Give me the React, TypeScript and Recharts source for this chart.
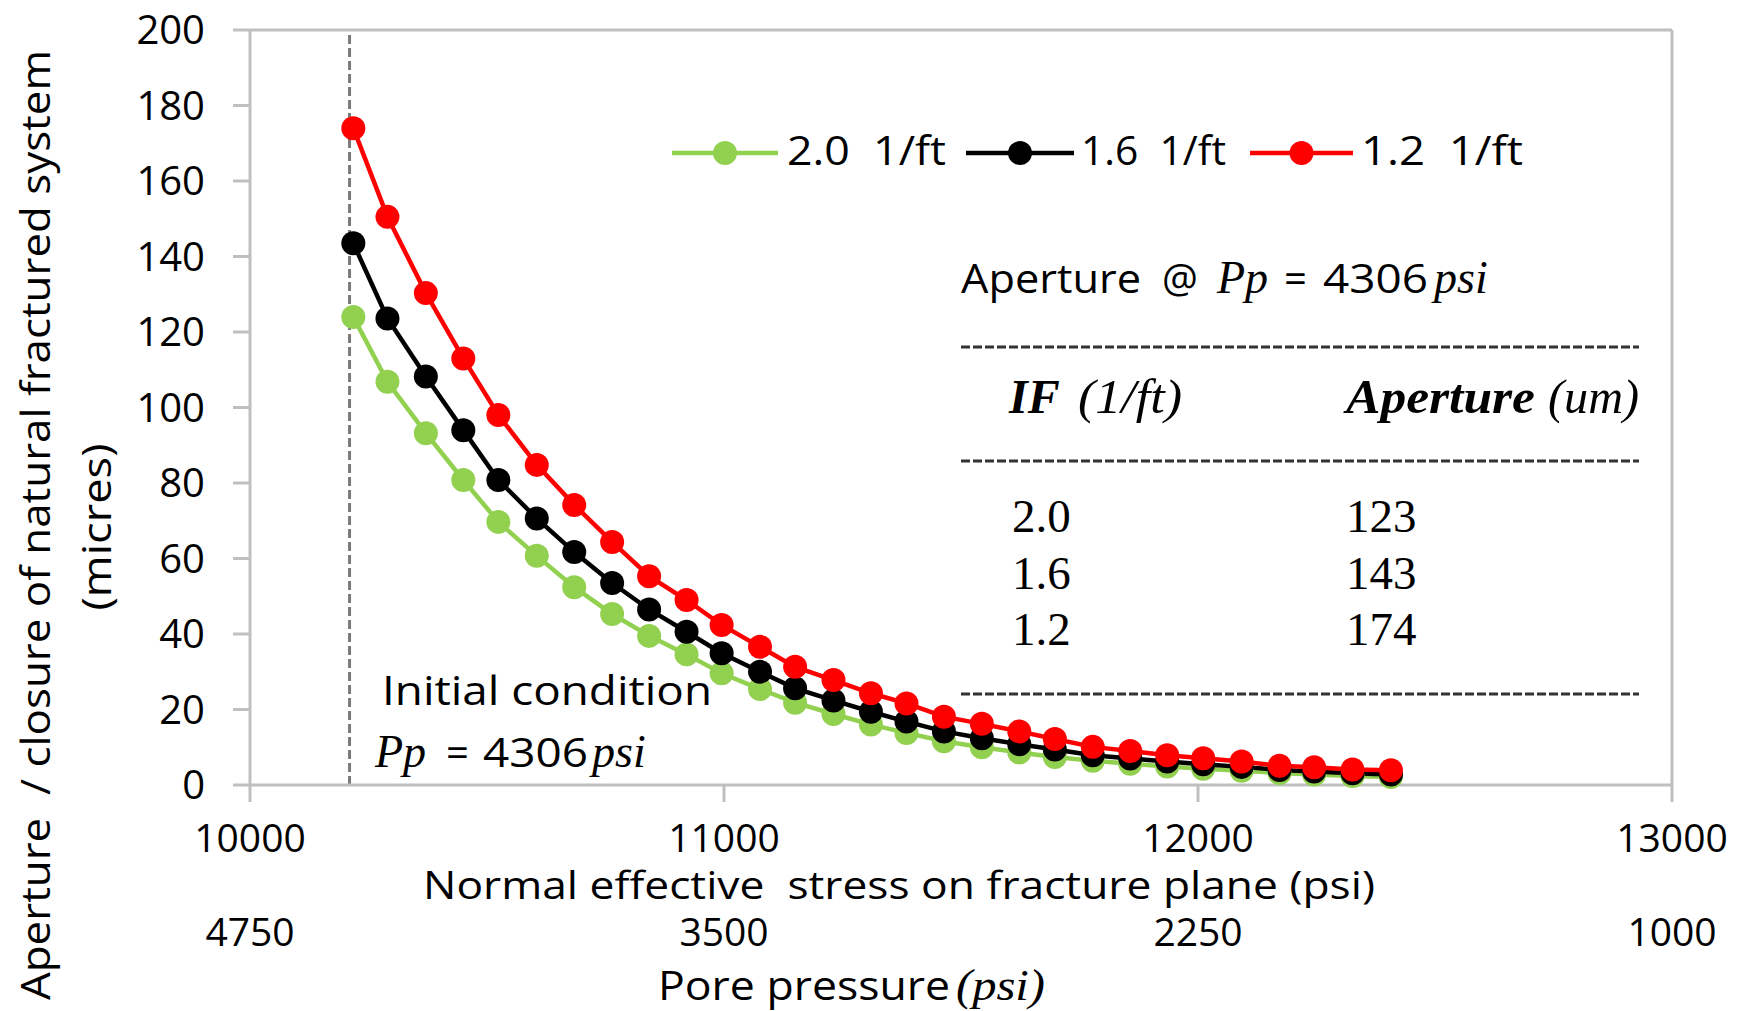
import React from 'react';
import { LineChart, Line, XAxis, YAxis, ReferenceLine, Label } from 'recharts';

document.body.style.margin = '0';

// normal effective stress on the fracture plane (psi)
const stress = [10218, 10290, 10371, 10450, 10524, 10605, 10684, 10764, 10842, 10921, 10995, 11076, 11150, 11231, 11310, 11385, 11464, 11544, 11623, 11698, 11778, 11857, 11935, 12011, 12092, 12172, 12245, 12326, 12407];

// aperture (microns) for each fracture intensity
const if20 = [124, 106.8, 93.2, 80.8, 69.7, 60.7, 52.4, 45.3, 39.5, 34.6, 29.6, 25.4, 21.8, 18.8, 16.0, 13.8, 11.6, 10.0, 8.6, 7.4, 6.4, 5.6, 4.9, 4.3, 3.8, 3.2, 2.8, 2.4, 2.1];
const if16 = [143.5, 123.6, 108.2, 94, 80.8, 70.6, 61.7, 53.5, 46.5, 40.6, 34.9, 30.0, 25.6, 22.4, 19.4, 16.8, 14.2, 12.4, 10.8, 9.4, 7.9, 7.0, 6.2, 5.5, 4.8, 4.0, 3.6, 3.1, 2.8];
const if12 = [174, 150.5, 130.3, 113, 98, 84.8, 74.2, 64.4, 55.3, 49.0, 42.4, 36.6, 31.3, 27.8, 24.3, 21.6, 18.1, 16.2, 14.2, 12.2, 10.1, 9.0, 7.9, 7.1, 6.2, 5.1, 4.7, 4.1, 3.9];

const stressTicks = [10000, 11000, 12000, 13000];
const poreTicks = ['4750', '3500', '2250', '1000'];
const apertureTicks = [0, 20, 40, 60, 80, 100, 120, 140, 160, 180, 200];
const initialStress = 10210;

const tableRows = [
  { f: '2.0', a: '123' },
  { f: '1.6', a: '143' },
  { f: '1.2', a: '174' },
];

const series = [
  { key: 'if20', name: '2.0  1/ft', color: '#92D050' },
  { key: 'if16', name: '1.6  1/ft', color: '#000000' },
  { key: 'if12', name: '1.2  1/ft', color: '#FF0000' },
];

const data = stress.map((s, i) => ({ stress: s, if20: if20[i], if16: if16[i], if12: if12[i] }));

const sans = "'Open Sans', sans-serif";
const serif = "'Liberation Serif', serif";
const gray = '#bfbfbf';

const StressTick = (props: any) => {
  const { x, payload } = props;
  const i = stressTicks.indexOf(payload.value);
  return (
    <g>
      <text x={x} y={852} textAnchor="middle" fontFamily={sans} fontSize={39} fill="#000">{payload.value}</text>
      <text x={x} y={946} textAnchor="middle" fontFamily={sans} fontSize={39} fill="#000">{poreTicks[i]}</text>
    </g>
  );
};

// legend positions
const legendItems = [
  { x1: 672, x2: 778, tx: 787, tw: 159 },
  { x1: 966, x2: 1074, tx: 1081, tw: 145 },
  { x1: 1250, x2: 1353, tx: 1361, tw: 162 },
];

export default function App() {
  return (
    <div style={{ position: 'relative', width: 1741, height: 1011, background: '#fff', fontFamily: sans }}>
      <LineChart width={1741} height={1011} data={data} margin={{ top: 17, right: 69, bottom: 0, left: 0 }}>
        <XAxis
          xAxisId="top"
          orientation="top"
          type="number"
          dataKey="stress"
          domain={[10000, 13000]}
          ticks={stressTicks}
          height={13}
          tick={false}
          tickSize={15}
          axisLine={{ stroke: gray, strokeWidth: 3 }}
          tickLine={{ stroke: gray, strokeWidth: 3 }}
        />
        <XAxis
          type="number"
          dataKey="stress"
          domain={[10000, 13000]}
          ticks={stressTicks}
          height={226}
          tickSize={17}
          tick={<StressTick />}
          axisLine={{ stroke: gray, strokeWidth: 3 }}
          tickLine={{ stroke: gray, strokeWidth: 3 }}
        >
          <Label
            content={() => (
              <g fontFamily={sans} fill="#000">
                <text x={423} y={899} fontSize={39} textLength={952} lengthAdjust="spacingAndGlyphs" style={{ whiteSpace: 'pre' }}>
                  Normal effective  stress on fracture plane (psi)
                </text>
                <text x={658} y={1000} fontSize={40} textLength={292} lengthAdjust="spacingAndGlyphs">Pore pressure</text>
                <text x={956} y={1000} fontSize={44} fontFamily={serif} fontStyle="italic" textLength={89} lengthAdjust="spacingAndGlyphs">(psi)</text>
              </g>
            )}
          />
        </XAxis>
        <YAxis
          type="number"
          domain={[0, 200]}
          ticks={apertureTicks}
          width={250}
          tickSize={17}
          tickMargin={28}
          tick={{ fontSize: 40, fill: '#000', fontFamily: sans }}
          axisLine={{ stroke: gray, strokeWidth: 3 }}
          tickLine={{ stroke: gray, strokeWidth: 3 }}
        >
          <Label
            content={() => (
              <g fontFamily={sans} fill="#000" fontSize={40}>
                <text transform="translate(50,525) rotate(-90)" textAnchor="middle" textLength={950} lengthAdjust="spacingAndGlyphs" style={{ whiteSpace: 'pre' }}>
                  Aperture  / closure of natural fractured system
                </text>
                <text transform="translate(111,527) rotate(-90)" textAnchor="middle" textLength={167} lengthAdjust="spacingAndGlyphs">(micres)</text>
              </g>
            )}
          />
        </YAxis>
        <ReferenceLine x={13000} stroke={gray} strokeWidth={3} />
        <ReferenceLine x={initialStress} stroke="#7a7a7a" strokeWidth={3} strokeDasharray="9 4" />
        {series.map((s) => (
          <Line
            key={s.key}
            type="linear"
            dataKey={s.key}
            name={s.name}
            stroke={s.color}
            strokeWidth={4.5}
            dot={{ r: 12, fill: s.color, stroke: s.color, strokeWidth: 0 }}
            activeDot={false}
            isAnimationActive={false}
          />
        ))}
      </LineChart>

      <svg width={1741} height={1011} style={{ position: 'absolute', left: 0, top: 0, pointerEvents: 'none' }}>
        {/* legend */}
        {series.map((s, i) => {
          const it = legendItems[i];
          return (
            <g key={s.key}>
              <line x1={it.x1} x2={it.x2} y1={153} y2={153} stroke={s.color} strokeWidth={4.5} />
              <circle cx={(it.x1 + it.x2) / 2} cy={153} r={12} fill={s.color} />
              <text x={it.tx} y={165} fontFamily={sans} fontSize={40} textLength={it.tw} lengthAdjust="spacingAndGlyphs" style={{ whiteSpace: 'pre' }}>
                {s.name}
              </text>
            </g>
          );
        })}

        {/* initial condition note */}
        <text x={382} y={705} fontFamily={sans} fontSize={40} textLength={330} lengthAdjust="spacingAndGlyphs">Initial condition</text>
        <text x={375} y={767} fontFamily={serif} fontStyle="italic" fontSize={46}>Pp</text>
        <text x={446} y={767} fontFamily={sans} fontSize={40}>=</text>
        <text x={483} y={767} fontFamily={sans} fontSize={40} textLength={105} lengthAdjust="spacingAndGlyphs">4306</text>
        <text x={592} y={767} fontFamily={serif} fontStyle="italic" fontSize={46}>psi</text>

        {/* aperture table */}
        <text x={961} y={293} fontFamily={sans} fontSize={40} textLength={180} lengthAdjust="spacingAndGlyphs">Aperture</text>
        <text x={1162} y={293} fontFamily={sans} fontSize={40}>@</text>
        <text x={1217} y={293} fontFamily={serif} fontStyle="italic" fontSize={46}>Pp</text>
        <text x={1284} y={293} fontFamily={sans} fontSize={40}>=</text>
        <text x={1323} y={293} fontFamily={sans} fontSize={40} textLength={105} lengthAdjust="spacingAndGlyphs">4306</text>
        <text x={1434} y={293} fontFamily={serif} fontStyle="italic" fontSize={46}>psi</text>

        {[347, 461, 694].map((y) => (
          <line key={y} x1={961} x2={1639} y1={y} y2={y} stroke="#333" strokeWidth={3} strokeDasharray="9 3" />
        ))}

        <text x={1009} y={413} fontFamily={serif} fontStyle="italic" fontWeight="bold" fontSize={48}>IF</text>
        <text x={1078} y={413} fontFamily={serif} fontStyle="italic" fontSize={48} textLength={104} lengthAdjust="spacingAndGlyphs">(1/ft)</text>
        <text x={1346} y={413} fontFamily={serif} fontStyle="italic" fontWeight="bold" fontSize={48} textLength={189} lengthAdjust="spacingAndGlyphs">Aperture</text>
        <text x={1548} y={413} fontFamily={serif} fontStyle="italic" fontSize={48} textLength={91} lengthAdjust="spacingAndGlyphs">(um)</text>

        {tableRows.map((r, i) => (
          <g key={r.f} fontFamily={serif} fontSize={47}>
            <text x={1012} y={532 + i * 56.5}>{r.f}</text>
            <text x={1346} y={532 + i * 56.5}>{r.a}</text>
          </g>
        ))}
      </svg>
    </div>
  );
}
